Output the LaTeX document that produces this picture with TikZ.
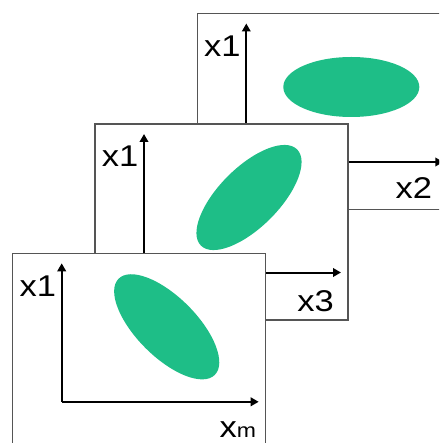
\documentclass[tikz,border=0pt]{standalone}
\usepackage{fontspec}
\setmainfont{Liberation Sans}
\usetikzlibrary{arrows.meta}
\definecolor{blobgreen}{RGB}{30,190,135}
\definecolor{framegray}{RGB}{85,85,85}
\tikzset{
  panel/.style={draw=framegray, line width=1.3pt, fill=white, minimum width=253pt, minimum height=196pt, inner sep=0pt, outer sep=0pt, anchor=north west},
  axis/.style={draw=black, line width=2pt, -{Triangle[length=8pt,width=8.5pt]}},
  blob/.style={fill=blobgreen},
  lbl/.style={inner sep=0pt, anchor=base east, font=\fontsize{30}{36}\selectfont}
}
\newcommand{\wlbl}[1]{\scalebox{1.15}[1]{#1}}
\begin{document}
\begin{tikzpicture}[x=1pt,y=-1pt]
\useasboundingbox (0,0) rectangle (439,443);
\clip (0,0) rectangle (439,443);
% panel 3 (back)
\begin{scope}[shift={(197.3,13.5)}]
  \node[panel] (p3) at (0,0) {};
  \coordinate (o3) at (49,148.5);
  \coordinate (v3) at (49,10);
  \coordinate (h3) at (246,148.5);
  \draw[axis] (o3) -- (v3);
  \draw[axis] (o3) -- (h3);
  \fill[blob] (154,73.5) ellipse [x radius=68, y radius=30];
  \node[lbl] (l3a) at (43.5,43) {\wlbl{x1}};
  \node[lbl] (l3b) at (235,185) {\wlbl{x2}};
\end{scope}
% panel 2
\begin{scope}[shift={(95,124)}]
  \node[panel] (p2) at (0,0) {};
  \coordinate (o2) at (49,148.5);
  \coordinate (v2) at (49,10);
  \coordinate (h2) at (246,148.5);
  \draw[axis] (o2) -- (v2);
  \draw[axis] (o2) -- (h2);
  \fill[blob, rotate around={45:(154,73.5)}] (154,73.5) ellipse [x radius=68, y radius=30];
  \node[lbl] (l2a) at (43.5,43) {\wlbl{x1}};
  \node[lbl] (l2b) at (239,187) {\wlbl{x3}};
\end{scope}
% panel 1 (front)
\begin{scope}[shift={(12.7,253.3)}]
  \node[panel] (p1) at (0,0) {};
  \coordinate (o1) at (49,148.5);
  \coordinate (v1) at (49,10);
  \coordinate (h1) at (246,148.5);
  \draw[axis] (o1) -- (v1);
  \draw[axis] (o1) -- (h1);
  \fill[blob, rotate around={-45:(154,73.5)}] (154,73.5) ellipse [x radius=68, y radius=30];
  \node[lbl] (l1a) at (43.5,43) {\wlbl{x1}};
  \node[lbl] (l1b) at (243.5,184) {\wlbl{x{\fontsize{20}{24}\selectfont m}}};
\end{scope}
\end{tikzpicture}
\end{document}
